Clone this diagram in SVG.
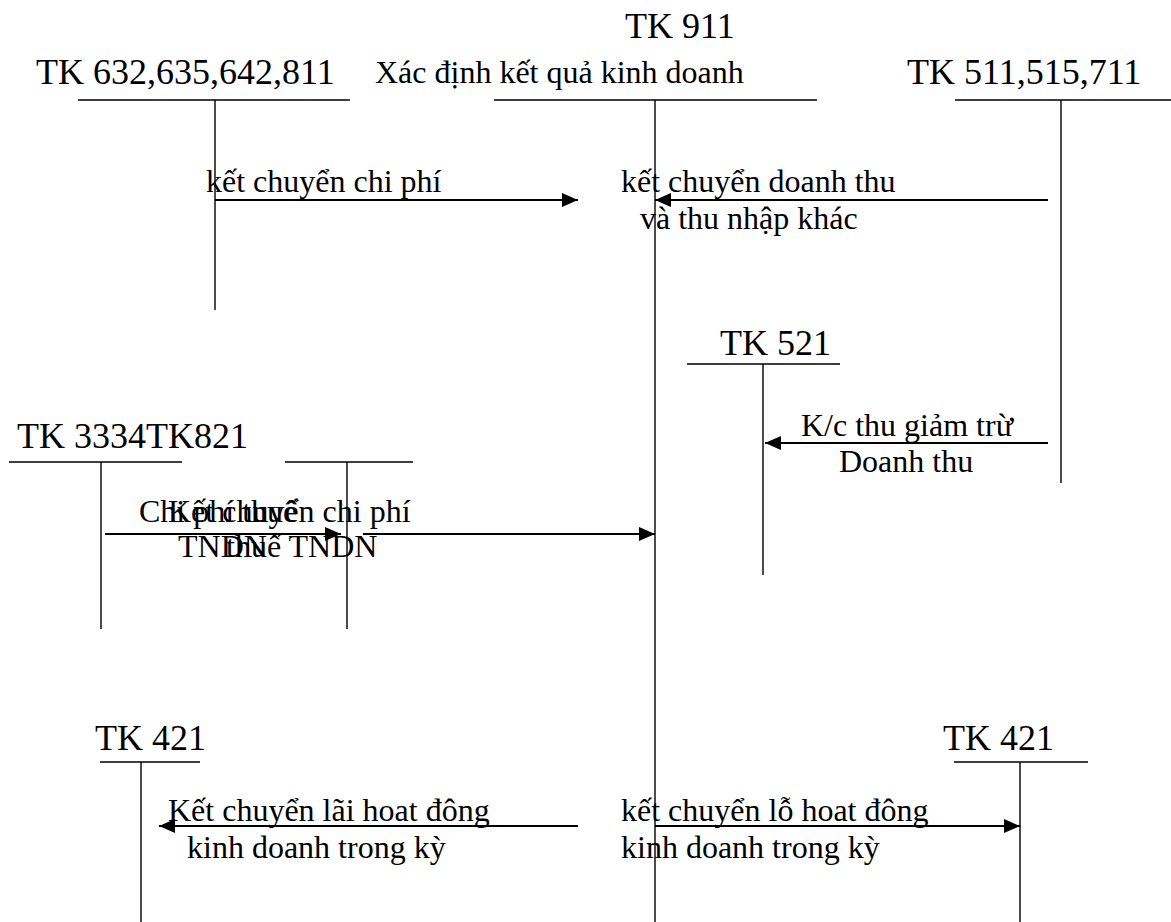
<svg xmlns="http://www.w3.org/2000/svg" width="1171" height="922" viewBox="0 0 1171 922">
  <style>
    text { font-family: "Liberation Serif", "Times New Roman", serif; fill: #000; }
    .acct { font-size: 36px; }
    .lbl { font-size: 32px; }
    .t { stroke: #000; stroke-width: 1.4; fill: none; }
    .flow { stroke: #000; stroke-width: 2.2; fill: none; marker-end: url(#head); }
  </style>
  <defs>
    <marker id="head" markerUnits="userSpaceOnUse" markerWidth="16" markerHeight="14" refX="16" refY="7" orient="auto">
      <path d="M0,0 L16,7 L0,14 z" fill="#000"/>
    </marker>
  </defs>
  <rect width="1171" height="922" fill="#fff"/>

  <!-- T-accounts -->
  <g id="tk911">
    <text class="acct" x="625" y="38">TK 911</text>
    <text class="lbl" x="375" y="83">Xác định kết quả kinh doanh</text>
    <path class="t" d="M494,100 H817 M655,100 V922"/>
  </g>
  <g id="tk632">
    <text class="acct" x="36" y="84">TK 632,635,642,811</text>
    <path class="t" d="M78,100 H350 M215,100 V310"/>
  </g>
  <g id="tk511">
    <text class="acct" x="907" y="84">TK 511,515,711</text>
    <path class="t" d="M955,100 H1171 M1061,100 V483"/>
  </g>
  <g id="tk521">
    <text class="acct" x="720" y="355">TK 521</text>
    <path class="t" d="M687,364 H840 M763,364 V575"/>
  </g>
  <g id="tk3334">
    <text class="acct" x="17" y="448">TK 3334</text>
    <path class="t" d="M9,462 H182 M101,462 V629"/>
  </g>
  <g id="tk821">
    <text class="acct" x="146" y="448">TK821</text>
    <path class="t" d="M285,462 H413 M347,462 V629"/>
  </g>
  <g id="tk421-left">
    <text class="acct" x="95" y="750">TK 421</text>
    <path class="t" d="M100,762 H200 M141,762 V922"/>
  </g>
  <g id="tk421-right">
    <text class="acct" x="943" y="750">TK 421</text>
    <path class="t" d="M954,762 H1088 M1020,762 V922"/>
  </g>

  <!-- Transfers between accounts -->
  <g id="connectors">
    <line class="flow" x1="215" y1="200" x2="578" y2="200"/>
    <text class="lbl" x="206" y="192">kết chuyển chi phí</text>

    <line class="flow" x1="1048" y1="200" x2="655" y2="200"/>
    <text class="lbl" x="621" y="192">kết chuyển doanh thu</text>
    <text class="lbl" x="640" y="229">và thu nhập khác</text>

    <line class="flow" x1="1048" y1="443" x2="765" y2="443"/>
    <text class="lbl" x="801" y="436">K/c thu giảm trừ</text>
    <text class="lbl" x="839" y="472">Doanh thu</text>

    <line class="flow" x1="105" y1="534" x2="341" y2="534"/>
    <text class="lbl" x="139" y="522">Chi phí thuế</text>
    <text class="lbl" x="178" y="557">TNDN</text>

    <line class="flow" x1="363" y1="534" x2="655" y2="534"/>
    <text class="lbl" x="168" y="522">Kết chuyển chi phí</text>
    <text class="lbl" x="226" y="557">thuế TNDN</text>

    <line class="flow" x1="578" y1="826" x2="159" y2="826"/>
    <text class="lbl" x="168" y="821">Kết chuyển lãi hoat đông</text>
    <text class="lbl" x="187" y="858">kinh doanh trong kỳ</text>

    <line class="flow" x1="655" y1="826" x2="1020" y2="826"/>
    <text class="lbl" x="621" y="821">kết chuyển lỗ hoat đông</text>
    <text class="lbl" x="621" y="858">kinh doanh trong kỳ</text>
  </g>
</svg>
